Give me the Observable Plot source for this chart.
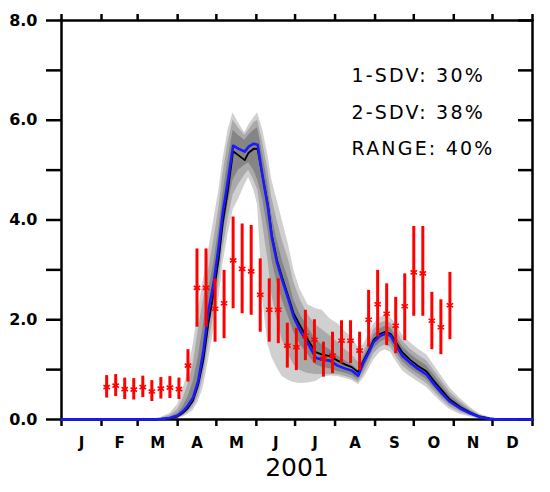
<!DOCTYPE html>
<html>
<head>
<meta charset="utf-8">
<script src="https://cdn.jsdelivr.net/npm/d3@7"></script>
<script src="https://cdn.jsdelivr.net/npm/@observablehq/plot@0.6"></script>
<style>
  html, body { margin: 0; padding: 0; background: #fff; }
</style>
</head>
<body>
<div id="chart"></div>
<script>
// ---- tick labels / annotation text ----
const monthLabels = ["J","F","M","A","M","J","J","A","S","O","N","D"];
const monthStarts = [0,31,59,90,120,151,181,212,243,273,304,334,365];
const yTicks = [0,1,2,3,4,5,6,7,8];
const statLines = ["1-SDV: 30%", "2-SDV: 38%", "RANGE: 40%"];
const yearLabel = "2001";

// ---- model ensemble (day of year) ----
const modelDay = [0,69,77,84,90,94,98,102,106,110,114,118,122,125,129,133,137,142,145,149,152,156,160,163,167,171,176,180,185,191,197,202,208,214,220,225,230,234,238,242,247,251,255,259,264,270,276,283,289,295,301,309,317,324,332,340,365];
const blueLine = [0,0,0.01,0.03,0.08,0.16,0.28,0.44,0.78,1.38,2.2,2.75,3.5,4.15,4.8,5.49,5.43,5.37,5.47,5.53,5.51,4.85,4.25,3.65,3.15,2.8,2.4,2.05,1.78,1.52,1.24,1.2,1.18,1.08,1.02,0.98,0.88,1.14,1.34,1.56,1.68,1.72,1.68,1.5,1.28,1.14,1.02,0.9,0.7,0.52,0.36,0.22,0.12,0.05,0.01,0,0];
const blackLine = [0,0,0.01,0.02,0.06,0.13,0.23,0.38,0.7,1.2,1.95,2.55,3.25,3.95,4.6,5.38,5.3,5.2,5.35,5.43,5.42,4.85,4.3,3.7,3.2,2.85,2.45,2.12,1.88,1.6,1.35,1.3,1.27,1.18,1.1,1.05,0.95,1.18,1.38,1.6,1.72,1.76,1.72,1.56,1.35,1.2,1.08,0.96,0.76,0.58,0.4,0.25,0.14,0.06,0.02,0,0];
const rangeLo = [0,0,0,0,0.02,0.05,0.1,0.18,0.35,0.65,1.2,1.8,2.4,3.1,3.7,4.2,4.4,4.7,4.85,4.6,4.3,2.4,1.5,1.25,1.04,0.86,0.78,0.74,0.72,0.73,0.76,0.84,0.87,0.86,0.82,0.78,0.7,0.82,1.0,1.2,1.35,1.4,1.35,1.18,0.98,0.86,0.76,0.64,0.48,0.33,0.2,0.1,0.05,0.01,0,0,0];
const rangeHi = [0,0,0.04,0.12,0.3,0.6,0.95,1.5,2.2,2.8,3.4,4.0,4.6,5.2,5.8,6.15,5.95,5.75,5.9,6.05,6.15,5.8,5.3,4.8,4.4,4.0,3.5,3.0,2.6,2.3,2.22,2.19,2.02,1.92,1.76,1.65,1.45,1.5,1.7,1.92,2.05,2.08,2.04,1.92,1.7,1.55,1.42,1.3,1.08,0.85,0.63,0.42,0.24,0.11,0.04,0.01,0];
const sd2Lo = [0,0,0,0.01,0.03,0.07,0.14,0.25,0.45,0.85,1.5,2.1,2.75,3.4,4.0,4.5,4.7,4.9,5.0,4.8,4.6,3.9,3.2,2.5,2.0,1.6,1.3,1.1,0.98,0.92,0.9,0.9,0.9,0.9,0.86,0.82,0.74,0.9,1.1,1.32,1.45,1.5,1.45,1.28,1.08,0.95,0.84,0.72,0.55,0.39,0.25,0.14,0.07,0.02,0,0,0];
const sd2Hi = [0,0,0.03,0.08,0.2,0.4,0.7,1.1,1.8,2.4,3.0,3.6,4.25,4.9,5.55,6.0,5.85,5.7,5.8,5.95,6.0,5.55,5.0,4.45,4.0,3.6,3.2,2.75,2.4,2.1,1.9,1.8,1.68,1.55,1.4,1.3,1.15,1.35,1.55,1.8,1.93,1.97,1.93,1.8,1.58,1.42,1.3,1.18,0.97,0.76,0.55,0.36,0.2,0.09,0.03,0.01,0];
const sd1Lo = [0,0,0,0.02,0.05,0.1,0.2,0.33,0.6,1.1,1.8,2.4,3.05,3.7,4.3,4.8,5.0,5.1,5.15,5.0,4.8,4.4,3.8,3.2,2.75,2.4,2.05,1.75,1.5,1.3,1.1,1.05,1.02,0.96,0.92,0.88,0.8,1.0,1.2,1.42,1.55,1.6,1.55,1.38,1.17,1.03,0.92,0.8,0.62,0.45,0.3,0.18,0.09,0.03,0,0,0];
const sd1Hi = [0,0,0.02,0.05,0.12,0.25,0.45,0.75,1.25,1.9,2.6,3.15,3.85,4.5,5.2,5.8,5.7,5.6,5.7,5.8,5.85,5.3,4.7,4.1,3.6,3.2,2.8,2.4,2.1,1.85,1.6,1.5,1.4,1.28,1.18,1.1,0.98,1.25,1.45,1.7,1.82,1.87,1.84,1.68,1.47,1.32,1.2,1.08,0.88,0.68,0.48,0.31,0.17,0.07,0.02,0,0];

// ---- observations (weekly, with error bars) ----
const obsDay = [35,42,49,56,63,70,77,84,91,98,105,112,119,126,133,140,147,154,161,168,175,182,189,196,203,210,217,224,231,238,245,252,259,266,273,280,287,294,301];
const obsVal = [0.65,0.68,0.61,0.6,0.65,0.56,0.62,0.64,0.61,1.08,2.64,2.64,2.22,2.33,3.19,3.02,2.97,2.5,2.2,2.2,1.48,1.45,1.68,1.6,1.22,1.28,1.58,1.58,1.38,2.0,2.31,2.12,1.88,2.27,2.95,2.93,1.98,1.85,2.29];
const obsLo = [0.43,0.46,0.4,0.39,0.44,0.36,0.41,0.42,0.4,0.75,1.85,1.85,1.55,1.62,2.22,2.12,2.09,1.75,1.55,1.52,1.03,0.98,1.18,1.13,0.85,0.92,1.12,1.12,0.98,1.45,1.65,1.48,1.32,1.58,2.07,2.07,1.4,1.3,1.6];
const obsHi = [0.88,0.9,0.83,0.82,0.87,0.78,0.84,0.86,0.83,1.4,3.42,3.42,2.82,2.99,4.06,3.92,3.89,3.22,2.82,2.82,1.93,1.83,2.19,2.0,1.55,1.75,1.98,1.98,1.75,2.59,2.99,2.72,2.45,2.92,3.87,3.87,2.55,2.4,2.95];

const model = modelDay.map((d, i) => ({
  day: d, blue: blueLine[i], black: blackLine[i],
  rLo: rangeLo[i], rHi: rangeHi[i], s2Lo: sd2Lo[i], s2Hi: sd2Hi[i], s1Lo: sd1Lo[i], s1Hi: sd1Hi[i]
}));
const obs = obsDay.map((d, i) => ({day: d, v: obsVal[i], lo: obsLo[i], hi: obsHi[i]}));
const months = monthLabels.map((m, i) => ({label: m, mid: (monthStarts[i] + monthStarts[i + 1]) / 2}));

const sans = "'DejaVu Sans', 'Liberation Sans', sans-serif";

const chart = Plot.plot({
  width: 550,
  height: 492,
  marginTop: 20,
  marginRight: 18,
  marginBottom: 73,
  marginLeft: 61,
  style: {background: "#fff", fontFamily: sans, color: "#000", overflow: "visible"},
  x: {type: "linear", domain: [0, 365]},
  y: {domain: [0, 8]},
  marks: [
    // bands
    Plot.areaY(model, {x: "day", y1: "rLo", y2: "rHi", fill: "#d0d0d0"}),
    Plot.areaY(model, {x: "day", y1: "s2Lo", y2: "s2Hi", fill: "#aaaaaa"}),
    Plot.areaY(model, {x: "day", y1: "s1Lo", y2: "s1Hi", fill: "#858585"}),
    // axes and frame
    Plot.axisY({ticks: yTicks, tickSize: 15, tickPadding: 9, strokeWidth: 2.5,
      tickFormat: d => d % 2 ? "" : d.toFixed(1), fontSize: 16, fontWeight: "bold", label: null}),
    Plot.axisY({anchor: "right", ticks: yTicks, tickSize: 15, dx: -15, strokeWidth: 2.5,
      tickFormat: () => "", label: null}),
    Plot.axisX({anchor: "bottom", ticks: monthStarts, tickSize: 7, strokeWidth: 2.5,
      tickFormat: () => "", label: null}),
    Plot.axisX({anchor: "top", ticks: monthStarts, tickSize: 7, strokeWidth: 2.5,
      tickFormat: () => "", label: null}),
    Plot.frame({stroke: "#000", strokeWidth: 2.5}),
    // model lines
    Plot.line(model, {x: "day", y: "black", stroke: "#000", strokeWidth: 1.8}),
    Plot.line(model, {x: "day", y: "blue", stroke: "#1a1aff", strokeWidth: 2.6}),
    // observations
    Plot.ruleX(obs, {x: "day", y1: "lo", y2: "hi", stroke: "#ff0000", strokeWidth: 3}),
    Plot.dot(obs, {x: "day", y: "v", symbol: "asterisk", r: 3.5, stroke: "#ff0000", strokeWidth: 1.6}),
    // month labels and year
    Plot.text(months, {x: "mid", text: "label", frameAnchor: "bottom", dy: 28,
      fontSize: 15, fontWeight: "bold", fill: "#000"}),
    Plot.text([yearLabel], {frameAnchor: "bottom", dy: 56, fontSize: 25, fill: "#000"}),
    // statistics box
    Plot.text([statLines.join("\n")], {frameAnchor: "top-left", textAnchor: "start", lineAnchor: "top",
      dx: 290, dy: 36, fontSize: 19, lineHeight: 1.92, fill: "#000"})
  ]
});
d3.select(chart).selectAll("text")
  .filter(function () { return this.textContent.includes("SDV"); })
  .style("letter-spacing", "2.2px");
document.getElementById("chart").appendChild(chart);
</script>
</body>
</html>
